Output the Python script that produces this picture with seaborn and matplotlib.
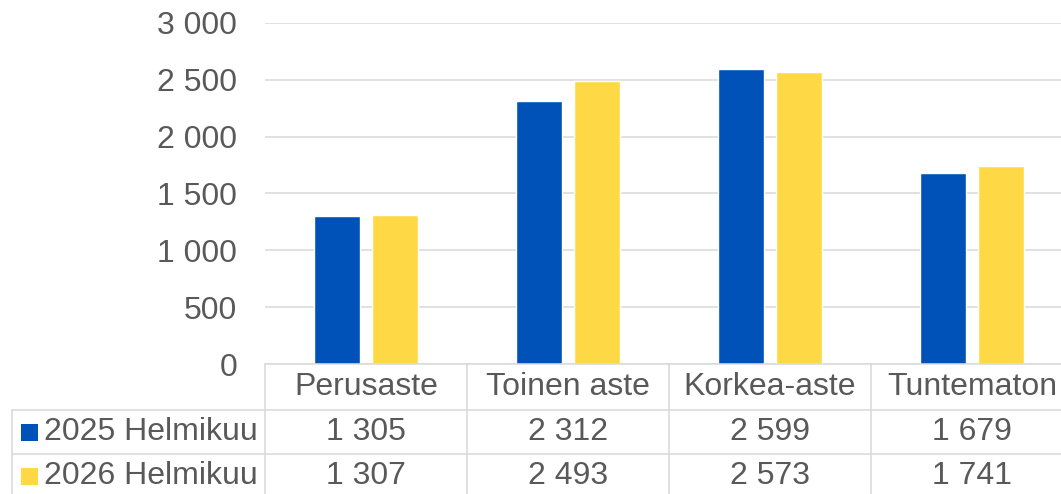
"""Bar chart with Excel-style data table: education level, Feb 2025 vs Feb 2026."""
import matplotlib
matplotlib.use("Agg")
import matplotlib.pyplot as plt
import matplotlib.transforms as mtransforms
from matplotlib.ticker import FuncFormatter
import pandas as pd
import seaborn as sns

CATEGORIES = ["Perusaste", "Toinen aste", "Korkea-aste", "Tuntematon"]
SERIES = ["2025 Helmikuu", "2026 Helmikuu"]
VALUES_2025 = [1305, 2312, 2599, 1679]
VALUES_2026 = [1307, 2493, 2573, 1741]
Y_TICKS = [0, 500, 1000, 1500, 2000, 2500, 3000]

COLORS = ["#0051B8", "#FFD945"]
GRID = "#D9D9D9"
TEXT = "#595959"
FS = 23

W, H = 1061, 494


def fmt(v):
    return f"{v:,.0f}".replace(",", " ")


df = pd.DataFrame({
    "category": CATEGORIES * 2,
    "series": [SERIES[0]] * 4 + [SERIES[1]] * 4,
    "value": VALUES_2025 + VALUES_2026,
})

sns.set_theme(style="white")
plt.rcParams["font.family"] = ["Liberation Sans", "DejaVu Sans"]

fig = plt.figure(figsize=(W / 100, H / 100), dpi=100)
fig.patch.set_facecolor("white")

# plot area in pixels: x 265.., y 23..364, each category ~202 px wide
ax = fig.add_axes([265 / W, (H - 364) / H, 808 / W, 341 / H])
sns.barplot(data=df, x="category", y="value", hue="series", order=CATEGORIES,
            hue_order=SERIES, palette=COLORS, width=0.576, gap=0.208,
            saturation=1, legend=False, ax=ax)
ax.set_xlim(-0.5, len(CATEGORIES) - 0.5)
ax.set_ylim(0, 3000)
ax.set_yticks(Y_TICKS)
ax.yaxis.set_major_formatter(FuncFormatter(lambda v, _: fmt(v)))
ax.tick_params(axis="y", length=0, pad=20, labelsize=FS, labelcolor=TEXT)
ax.set_xticks([])
ax.set_xlabel("")
ax.set_ylabel("")
ax.grid(axis="y", color=GRID, lw=1.1)
ax.set_axisbelow(True)
for s in ax.spines.values():
    s.set_visible(False)
ax.patch.set_alpha(0)

# overlay for the data table, in pixel coordinates
over = fig.add_axes([0, 0, 1, 1], facecolor="none")
over.set_xlim(0, W)
over.set_ylim(H, 0)
over.axis("off")
blend = mtransforms.blended_transform_factory(ax.transData, over.transData)

top, row1, row2, bottom = 364, 410, 454, 498
left_x = 12
lw = 1.1

# horizontal lines
over.plot([265, W], [top, top], color=GRID, lw=lw)
for yy in (row1, row2):
    over.plot([left_x, W], [yy, yy], color=GRID, lw=lw)
over.plot([left_x, left_x], [row1, H], color=GRID, lw=lw)
# vertical column borders from the category positions
for i in range(len(CATEGORIES) + 1):
    over.plot([i - 0.5, i - 0.5], [top, H], color=GRID, lw=lw, transform=blend)

# header row and values
for i, cat in enumerate(CATEGORIES):
    over.text(i, (top + row1) / 2, cat, ha="center", va="center",
              fontsize=FS, color=TEXT, transform=blend)
    over.text(i, (row1 + row2) / 2, fmt(VALUES_2025[i]), ha="center",
              va="center", fontsize=FS, color=TEXT, transform=blend)
    over.text(i, (row2 + bottom) / 2, fmt(VALUES_2026[i]), ha="center",
              va="center", fontsize=FS, color=TEXT, transform=blend)

# row labels with legend keys
for name, color, (y0, y1) in zip(SERIES, COLORS, [(row1, row2), (row2, bottom)]):
    yc = (y0 + y1) / 2
    over.add_patch(plt.Rectangle((21, yc - 8.5), 17, 17, color=color, lw=0))
    over.text(44, yc, name, ha="left", va="center", fontsize=FS, color=TEXT)

fig.savefig("out.png", dpi=100, facecolor="white")
